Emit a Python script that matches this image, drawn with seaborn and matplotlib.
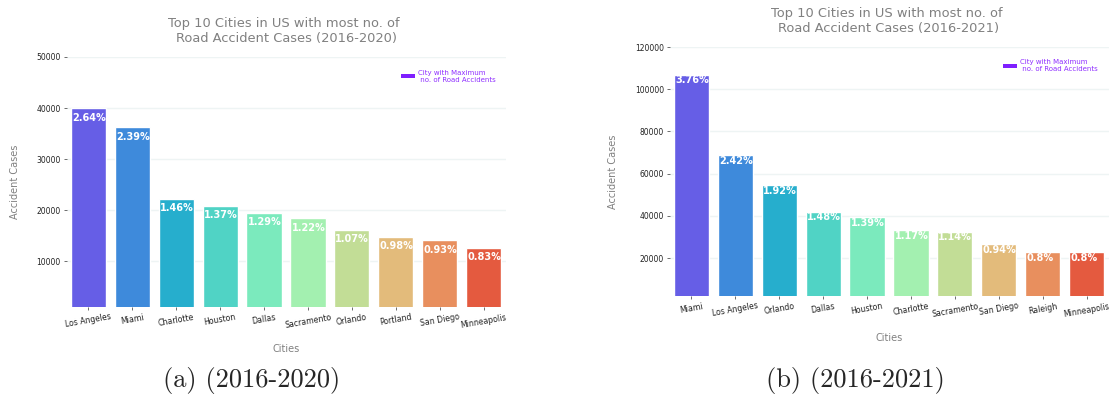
import matplotlib
matplotlib.use("Agg")
import matplotlib.pyplot as plt
import seaborn as sns
import pandas as pd
from matplotlib.patches import Patch

# ---- data ----
cities_2020 = ["Los Angeles", "Miami", "Charlotte", "Houston", "Dallas",
               "Sacramento", "Orlando", "Portland", "San Diego", "Minneapolis"]
cases_2020 = [39984, 36233, 22203, 20843, 19497, 18431, 16169, 14805, 14090, 12653]
pct_2020 = ["2.64%", "2.39%", "1.46%", "1.37%", "1.29%", "1.22%", "1.07%", "0.98%", "0.93%", "0.83%"]

cities_2021 = ["Miami", "Los Angeles", "Orlando", "Dallas", "Houston",
               "Charlotte", "Sacramento", "San Diego", "Raleigh", "Minneapolis"]
cases_2021 = [106966, 68956, 54691, 41979, 39448, 33152, 32559, 26627, 22840, 22768]
pct_2021 = ["3.76%", "2.42%", "1.92%", "1.48%", "1.39%", "1.17%", "1.14%", "0.94%", "0.8%", "0.8%"]

titles = ["Top 10 Cities in US with most no. of \nRoad Accident Cases (2016-2020)",
          "Top 10 Cities in US with most no. of \nRoad Accident Cases (2016-2021)"]
captions = ["(a) (2016-2020)", "(b) (2016-2021)"]
legend_label = "City with Maximum\n no. of Road Accidents"

sns.set_style("whitegrid", {"grid.color": "#eef4f4", "axes.edgecolor": "white",
                            "xtick.bottom": True, "ytick.left": True,
                            "xtick.color": "#555555", "ytick.color": "#555555"})

W, H = 1109, 394
fig = plt.figure(figsize=(W / 100, H / 100), dpi=100)

# axes boxes in pixels: left, right, top, bottom
boxes = [(66.5, 505.5, 57, 307), (669.5, 1108.5, 47, 296)]
ylims = [(1000, 50000), (2000, 120000)]
label_offsets = [6.8, 4.2]
caption_x = [252, 855]
legend_anchor = [(0.992, 0.975), (0.99, 0.975)]

panels = [(cities_2020, cases_2020, pct_2020), (cities_2021, cases_2021, pct_2021)]

for k, (cities, cases, pcts) in enumerate(panels):
    l, r, t, b = boxes[k]
    ax = fig.add_axes([l / W, (H - b) / H, (r - l) / W, (b - t) / H])
    df = pd.DataFrame({"Cities": cities, "Cases": cases})
    sns.barplot(data=df, x="Cities", y="Cases", hue="Cities", palette="rainbow",
                legend=False, edgecolor="white", linewidth=1, ax=ax)
    ax.set_ylim(*ylims[k])
    for i, (v, p) in enumerate(zip(cases, pcts)):
        ax.annotate(p, xy=(i - 0.4, v), xytext=(0.8, -label_offsets[k]),
                    textcoords="offset points", ha="left", va="center",
                    color="white", fontsize=7, fontweight="bold")
    ax.set_title(titles[k], fontsize=9.4, color="grey", pad=11)
    ax.set_xlabel("Cities", fontsize=7, color="grey", labelpad=10)
    ax.set_ylabel("Accident Cases", fontsize=7, color="grey", labelpad=12)
    ax.tick_params(axis="x", labelsize=5.6, rotation=10, length=2, width=0.6,
                   labelcolor="#222222", pad=2)
    ax.tick_params(axis="y", labelsize=5.5, length=2, width=0.6,
                   labelcolor="#222222", pad=2)
    ax.grid(axis="x", visible=False)
    ax.grid(axis="y", color="#eef4f4", linewidth=1)
    for s in ax.spines.values():
        s.set_visible(False)
    leg = ax.legend(handles=[Patch(facecolor="#7f1fff", edgecolor="none")],
                    labels=[legend_label], loc="upper right",
                    bbox_to_anchor=legend_anchor[k], frameon=False, fontsize=5,
                    labelcolor="#8f2fff", handlelength=2.0, handleheight=0.5,
                    handletextpad=0.5)
    fig.text(caption_x[k] / W, 14 / H, captions[k], ha="center", va="center",
             fontsize=19, family="cmr10")

fig.savefig("out.png", dpi=100)
